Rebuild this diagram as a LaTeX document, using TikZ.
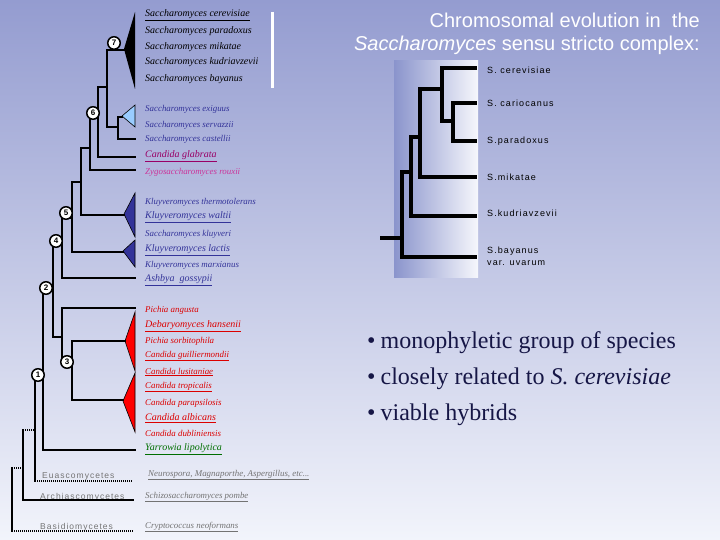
\documentclass[tikz,border=0pt]{standalone}
\usepackage{fontspec}
\setmainfont{Liberation Serif}
\newfontfamily\arial{Liberation Sans}
\newfontfamily\arialsp{Liberation Sans}[LetterSpace=12]
\definecolor{bgtop}{RGB}{148,156,208}
\definecolor{bgbot}{RGB}{242,244,251}
\definecolor{pnlL}{RGB}{138,148,204}
\definecolor{pnlR}{RGB}{246,247,252}
\definecolor{kblue}{RGB}{51,51,153}
\definecolor{lblue}{RGB}{153,204,255}
\definecolor{cglab}{RGB}{153,0,102}
\definecolor{zygo}{RGB}{204,51,153}
\definecolor{cred}{RGB}{220,0,0}
\definecolor{ygreen}{RGB}{0,110,0}
\definecolor{grtxt}{RGB}{115,115,115}
\definecolor{bullet}{RGB}{22,22,70}
\begin{document}
\begin{tikzpicture}[x=1pt,y=-1pt,
  lbl/.style={anchor=west, inner sep=0pt, font=\fontsize{10}{11}\selectfont\itshape},
  sml/.style={anchor=west, inner sep=0pt, font=\fontsize{8.9}{9}\selectfont\itshape},
  grp/.style={anchor=west, inner sep=0pt, font=\arialsp\fontsize{8.5}{9}\selectfont, text=grtxt},
  rl/.style={anchor=west, inner sep=0pt, font=\arialsp\fontsize{9}{12}\selectfont, align=left},
  circ/.style={circle, draw, line width=1.5pt, fill=white, inner sep=0pt, minimum size=12.5pt, font=\arial\fontsize{8}{8}\selectfont\bfseries},
  br/.style={line width=2pt, line cap=rect},
  dbr/.style={line width=1.3pt, dash pattern=on 1pt off 1pt},
  rbr/.style={line width=3.5pt, line cap=rect},
  tri/.style={draw=black, line width=0.6pt},
  bul/.style={anchor=west, inner sep=0pt, text=bullet, font=\fontsize{24}{26}\selectfont}]
\useasboundingbox (0,0) rectangle (720,540);
\shade[top color=bgtop, bottom color=bgbot] (0,0) rectangle (720,540);

% ---------- title ----------
\node[anchor=east, inner sep=0pt, text=white, font=\arial\fontsize{20}{22}\selectfont] (t1) at (700,20) {Chromosomal evolution in\ \ the};
\node[anchor=east, inner sep=0pt, text=white, font=\arial\fontsize{20}{22}\selectfont] (t2) at (700,45) {\textit{Saccharomyces} sensu stricto complex:};

% ---------- right panel tree ----------
\shade[left color=pnlL, right color=pnlR] (394,61) rectangle (478,277);
\node[rl] (r1) at (487,70) {S. cerevisiae};
\node[rl] (r2) at (487,103) {S. cariocanus};
\node[rl] (r3) at (487,141) {S.paradoxus};
\node[rl] (r4) at (487,177) {S.mikatae};
\node[rl] (r5) at (487,213) {S.kudriavzevii};
\node[rl] (r6) at (487,256) {S.bayanus\\var. uvarum};
\coordinate (rroot) at (382,238);
\draw[rbr] (442,68) -- (475,68);
\draw[rbr] (453,103) -- (475,103);
\draw[rbr] (453,141) -- (475,141);
\draw[rbr] (453,103) -- (453,141);
\draw[rbr] (442,68) -- (442,121) -- (453,121);
\draw[rbr] (420,89) -- (442,89);
\draw[rbr] (420,89) -- (420,177) -- (475,177);
\draw[rbr] (411,137) -- (420,137);
\draw[rbr] (411,137) -- (411,216) -- (475,216);
\draw[rbr] (402,172) -- (411,172);
\draw[rbr] (402,172) -- (402,257) -- (475,257);
\draw[rbr] (rroot) -- (402,238);

% ---------- bullets ----------
\node[bul] (b1) at (367,343) {\textbullet\hspace{5pt}monophyletic group of species};
\node[bul] (b2) at (367,379) {\textbullet\hspace{5pt}closely related to \textit{S. cerevisiae}};
\node[bul] (b3) at (367,415) {\textbullet\hspace{5pt}viable hybrids};

% ---------- left tree: labels ----------
\node[lbl] (l1) at (145,15) {\underline{Saccharomyces cerevisiae}};
\node[lbl] (l2) at (145,31) {Saccharomyces paradoxus};
\node[lbl] (l3) at (145,47) {Saccharomyces mikatae};
\node[lbl] (l4) at (145,62) {Saccharomyces kudriavzevii};
\node[lbl] (l5) at (145,79) {Saccharomyces bayanus};
\draw[white, line width=3pt] (272,12) -- (272,88);

\node[sml, text=kblue] (l6) at (145,109) {Saccharomyces exiguus};
\node[sml, text=kblue] (l7) at (145,125) {Saccharomyces servazzii};
\node[sml, text=kblue] (l8) at (145,139) {Saccharomyces castellii};
\node[lbl, text=cglab] (l9) at (145,156) {\underline{Candida glabrata}};
\node[sml, text=zygo] (l10) at (145,172) {Zygosaccharomyces rouxii};
\node[sml, text=kblue] (l11) at (145,202) {Kluyveromyces thermotolerans};
\node[lbl, text=kblue] (l12) at (145,217) {\underline{Kluyveromyces waltii}};
\node[sml, text=kblue] (l13) at (145,234) {Saccharomyces kluyveri};
\node[lbl, text=kblue] (l14) at (145,250) {\underline{Kluyveromyces lactis}};
\node[sml, text=kblue] (l15) at (145,265) {Kluyveromyces marxianus};
\node[lbl, text=kblue] (l16) at (145,280) {\underline{Ashbya\ \ gossypii}};

\node[sml, text=cred] (l17) at (145,310) {Pichia angusta};
\node[lbl, text=cred] (l18) at (145,326) {\underline{Debaryomyces hansenii}};
\node[sml, text=cred] (l19) at (145,341) {Pichia sorbitophila};
\node[sml, text=cred] (l20) at (145,356) {\underline{Candida guilliermondii}};
\node[sml, text=cred] (l21) at (145,372) {\underline{Candida lusitaniae}};
\node[sml, text=cred] (l22) at (145,387) {\underline{Candida tropicalis}};
\node[sml, text=cred] (l23) at (145,403) {Candida parapsilosis};
\node[lbl, text=cred] (l24) at (145,418) {\underline{Candida albicans}};
\node[sml, text=cred] (l25) at (145,433) {Candida dubliniensis};
\node[lbl, text=ygreen] (l26) at (145,449) {\underline{Yarrowia lipolytica}};

\node[sml, text=grtxt] (l27) at (148,475) {\underline{Neurospora, Magnaporthe, Aspergillus, etc...}};
\node[sml, text=grtxt] (l28) at (145,497) {\underline{Schizosaccharomyces pombe}};
\node[sml, text=grtxt] (l29) at (145,527) {\underline{Cryptococcus neoformans}};

\node[grp] (g1) at (42,476) {Euascomycetes};
\node[grp] (g2) at (40,497) {Archiascomycetes};
\node[grp] (g3) at (40,527) {Basidiomycetes};

% ---------- left tree: collapsed clades ----------
\fill (124,49) -- (135,12) -- (135,89) -- cycle;
\filldraw[tri, fill=lblue] (122,116) -- (135,105) -- (135,127) -- cycle;
\filldraw[tri, fill=kblue] (124,214) -- (135,193) -- (135,237) -- cycle;
\filldraw[tri, fill=kblue] (123,251) -- (135,240) -- (135,267) -- cycle;
\filldraw[tri, fill=red] (125,341) -- (135,312) -- (135,371) -- cycle;
\filldraw[tri, fill=red] (123,401) -- (135,373) -- (135,432) -- cycle;

% ---------- left tree: branches ----------
\draw[br] (124,50) -- (107,50) -- (107,127) -- (118,127);
\draw[br] (122,117) -- (118,117) -- (118,139) -- (135,139);
\draw[br] (107,87) -- (98,87) -- (98,157) -- (135,157);
\draw[br] (98,113) -- (90,113) -- (90,170) -- (135,170);
\draw[br] (90,148) -- (81,148) -- (81,215) -- (124,215);
\draw[br] (81,182) -- (72,182) -- (72,252) -- (123,252);
\draw[br] (72,218) -- (62,218) -- (62,278) -- (135,278);
\draw[br] (62,245) -- (53,245) -- (53,337) -- (62,337);
\draw[br] (135,308) -- (62,308) -- (62,362) -- (72,362);
\draw[br] (125,341) -- (72,341) -- (72,400) -- (123,400);
\draw[br] (53,290) -- (43,290) -- (43,450) -- (135,450);
\draw[br] (43,375) -- (35,375) -- (35,481);
\draw[dbr] (35,481) -- (132,481);
\draw[dbr] (23,430) -- (35,430);
\draw[br] (23,430) -- (23,500) -- (133,500);
\draw[dbr] (12,468) -- (23,468);
\draw[br] (12,468) -- (12,531);
\draw[dbr] (12,531) -- (133,531);

% ---------- node circles ----------
\node[circ] (n7) at (114,43) {7};
\node[circ] (n6) at (93,113) {6};
\node[circ] (n5) at (66,213) {5};
\node[circ] (n4) at (56,241) {4};
\node[circ] (n2) at (46,288) {2};
\node[circ] (n3) at (67,362) {3};
\node[circ] (n1) at (38,375) {1};
\end{tikzpicture}
\end{document}
